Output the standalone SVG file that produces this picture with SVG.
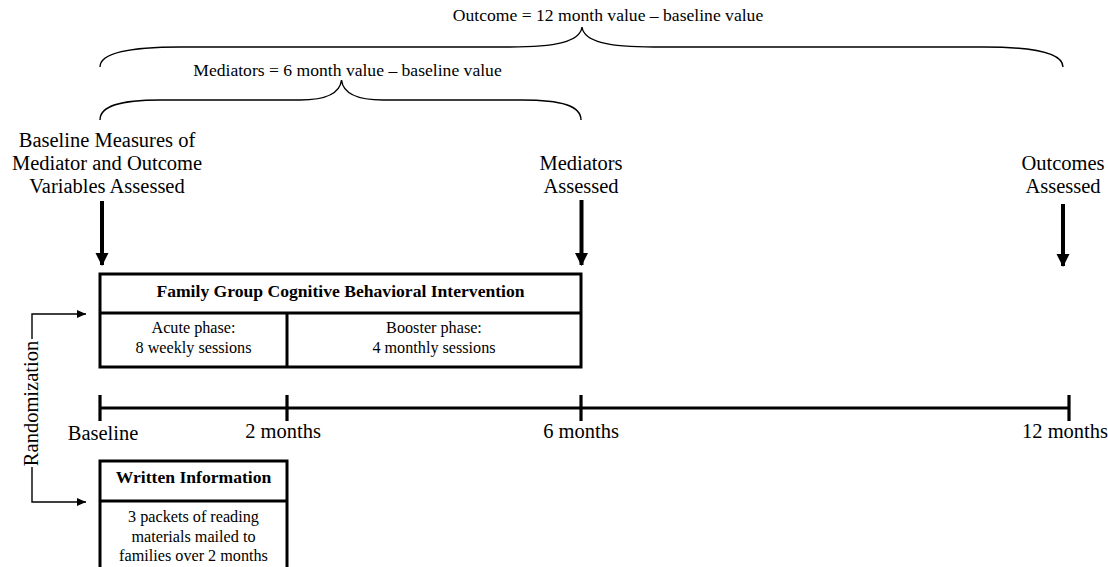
<svg xmlns="http://www.w3.org/2000/svg" width="1108" height="567" viewBox="0 0 1108 567">
<style>
text{font-family:"Liberation Serif","Times New Roman",serif;fill:#000}
.big{font-size:20.5px;text-anchor:middle}
.formula{font-size:17.6px;text-anchor:middle}
.hdr{font-size:17.6px;font-weight:bold;text-anchor:middle}
.small{font-size:16.2px;text-anchor:middle}
.box{fill:#fff;stroke:#000;stroke-width:3}
.div{stroke:#000;stroke-width:3;fill:none}
.brace{fill:none;stroke:#000;stroke-width:1.4}
.thin{fill:none;stroke:#000;stroke-width:1.4}
.axis{stroke:#000;stroke-width:3.2;fill:none}
.shaft{stroke:#000;stroke-width:4;fill:none}
</style>
<defs>
<marker id="thick" markerUnits="userSpaceOnUse" markerWidth="14" markerHeight="16" refX="12" refY="6.5" orient="auto">
<path d="M0,0 L13,6.5 L0,13 Z" fill="#000"/>
</marker>
<marker id="small" markerUnits="userSpaceOnUse" markerWidth="10" markerHeight="10" refX="9" refY="4" orient="auto">
<path d="M0,0 L9,4 L0,8 Z" fill="#000"/>
</marker>
</defs>
<rect width="1108" height="567" fill="#fff"/>

<g id="outcome-brace">
<path class="brace" d="M100,67 C100,53 130,47 180,47 L510,47 C555,47 580,42 582,27 C584,42 609,47 654,47 L984,47 C1034,47 1063,53 1063,67"/>
<text class="formula" x="608" y="21">Outcome = 12 month value – baseline value</text>
</g>

<g id="mediator-brace">
<path class="brace" d="M100,120 C100,106 120,100 160,100 L300,100 C328,100 340,93 341.5,80 C343,93 355,100 383,100 L522,100 C562,100 581,106 581,120"/>
<text class="formula" x="347.5" y="76">Mediators = 6 month value – baseline value</text>
</g>

<g id="baseline-label">
<text class="big" x="107" y="147">Baseline Measures of</text>
<text class="big" x="107" y="170">Mediator and Outcome</text>
<text class="big" x="107" y="193">Variables Assessed</text>
</g>

<g id="mediators-label">
<text class="big" x="581" y="170">Mediators</text>
<text class="big" x="581" y="193">Assessed</text>
</g>

<g id="outcomes-label">
<text class="big" x="1063" y="170">Outcomes</text>
<text class="big" x="1063" y="193">Assessed</text>
</g>

<g id="fgcbi">
<rect class="box" x="100" y="274" width="481" height="93"/>
<line class="div" x1="100" y1="313" x2="581" y2="313"/>
<line class="div" x1="287" y1="313" x2="287" y2="367"/>
<text class="hdr" x="340.5" y="297">Family Group Cognitive Behavioral Intervention</text>
<text class="small" x="193.5" y="333">Acute phase:</text>
<text class="small" x="193.5" y="353">8 weekly sessions</text>
<text class="small" x="434" y="333">Booster phase:</text>
<text class="small" x="434" y="353">4 monthly sessions</text>
</g>

<g id="timeline">
<line class="axis" x1="100" y1="408" x2="1069" y2="408"/>
<line class="axis" x1="100" y1="395" x2="100" y2="421"/>
<line class="axis" x1="287" y1="395" x2="287" y2="421"/>
<line class="axis" x1="581" y1="395" x2="581" y2="421"/>
<line class="axis" x1="1069" y1="395" x2="1069" y2="421"/>
<text class="big" x="103" y="440">Baseline</text>
<text class="big" x="283" y="438">2 months</text>
<text class="big" x="581" y="438">6 months</text>
<text class="big" x="1065" y="438">12 months</text>
</g>

<g id="written-info">
<rect class="box" x="100" y="461" width="187" height="120"/>
<line class="div" x1="100" y1="501" x2="287" y2="501"/>
<text class="hdr" x="193.5" y="483">Written Information</text>
<text class="small" x="193.5" y="522">3 packets of reading</text>
<text class="small" x="193.5" y="542">materials mailed to</text>
<text class="small" x="193.5" y="561">families over 2 months</text>
</g>

<g id="randomization">
<text class="big" transform="translate(38,403.5) rotate(-90)" x="0" y="0">Randomization</text>
</g>

<g id="connectors">
<line class="shaft" x1="102" y1="201" x2="102" y2="265" marker-end="url(#thick)"/>
<line class="shaft" x1="581.5" y1="200" x2="581.5" y2="265" marker-end="url(#thick)"/>
<line class="shaft" x1="1063" y1="204" x2="1063" y2="266" marker-end="url(#thick)"/>
<path class="thin" d="M32,339 L32,314 L86,314" marker-end="url(#small)"/>
<path class="thin" d="M32,467 L32,502 L86,502" marker-end="url(#small)"/>
</g>
</svg>
